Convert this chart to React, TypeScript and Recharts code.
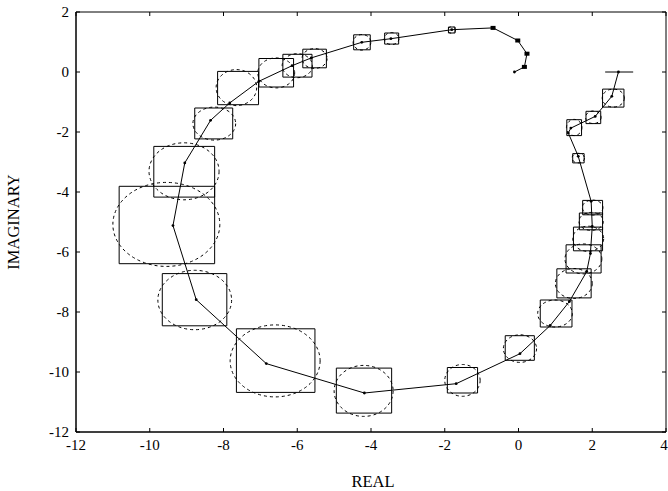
import { ScatterChart, Scatter, XAxis, YAxis, ReferenceArea, ReferenceLine } from "recharts"

// path of the locus (real, imaginary)
const pathX = [-0.11, 0.16, 0.23, -0.02, -0.69, -1.81, -3.46, -4.25, -5.62, -6.14, -7.04, -7.83, -8.35, -9.05, -9.37, -8.74, -6.84, -4.18, -1.69, 0.04, 0.86, 1.38, 1.85, 1.95, 2.0, 1.97, 1.62, 1.35, 1.42, 2.08, 2.53, 2.71]
const pathY = [0.0, 0.17, 0.61, 1.05, 1.47, 1.41, 1.11, 0.99, 0.47, 0.21, -0.31, -1.03, -1.61, -3.03, -5.12, -7.59, -9.72, -10.7, -10.39, -9.39, -8.45, -7.65, -6.65, -6.05, -5.15, -4.31, -2.81, -2.03, -1.87, -1.48, -0.81, 0.0]

// small filled markers near the start
const solidX = [-0.69, -0.02, 0.23, 0.16]
const solidY = [1.47, 1.05, 0.61, 0.17]

// uncertainty boxes
const boxLeft = [-1.9, -3.63, -4.47, -5.85, -6.39, -7.04, -8.16, -8.78, -9.89, -10.83, -9.66, -7.65, -4.94, -1.93, -0.36, 0.59, 1.04, 1.29, 1.49, 1.65, 1.74, 1.47, 1.31, 1.83, 2.28]
const boxRight = [-1.72, -3.25, -4.02, -5.21, -5.6, -6.1, -7.05, -7.75, -8.24, -8.24, -7.91, -5.52, -3.44, -1.11, 0.43, 1.45, 1.97, 2.24, 2.28, 2.28, 2.28, 1.78, 1.71, 2.23, 2.86]
const boxBottom = [1.3, 0.93, 0.74, 0.14, -0.17, -0.5, -1.09, -2.23, -4.17, -6.39, -8.46, -10.68, -11.37, -10.7, -9.61, -8.5, -7.53, -6.7, -5.96, -5.26, -4.76, -3.03, -2.12, -1.72, -1.17]
const boxTop = [1.5, 1.3, 1.24, 0.76, 0.59, 0.45, 0.02, -1.2, -2.48, -3.81, -6.72, -8.56, -9.87, -9.85, -8.79, -7.6, -6.56, -5.76, -5.17, -4.7, -4.28, -2.72, -1.59, -1.31, -0.57]

// flat box at the end of the locus
const flatX = [2.35, 3.11]
const flatY = 0

// dashed ellipses: centre and radii
const ellX = [-1.81, -3.44, -4.245, -5.53, -6.0, -6.57, -7.65, -8.25, -9.07, -9.55, -8.78, -6.6, -4.2, -1.52, 0.04, 0.99, 1.5, 1.76, 1.89, 1.97, 2.01, 1.62, 1.51, 2.03, 2.57]
const ellY = [1.4, 1.115, 0.99, 0.45, 0.21, -0.03, -0.52, -1.72, -3.31, -5.08, -7.6, -9.63, -10.63, -10.28, -9.22, -8.05, -7.05, -6.23, -5.56, -4.98, -4.52, -2.87, -1.85, -1.51, -0.87]
const ellRx = [0.1, 0.2, 0.24, 0.34, 0.41, 0.5, 0.55, 0.58, 0.95, 1.45, 1.0, 1.22, 0.8, 0.48, 0.45, 0.47, 0.5, 0.5, 0.42, 0.33, 0.28, 0.17, 0.21, 0.21, 0.3]
const ellRy = [0.11, 0.2, 0.26, 0.33, 0.4, 0.5, 0.6, 0.55, 0.95, 1.4, 0.99, 1.2, 0.85, 0.53, 0.46, 0.45, 0.5, 0.5, 0.42, 0.3, 0.25, 0.16, 0.27, 0.21, 0.3]

const xDomain = [-12, 4]
const yDomain = [-12, 2]
const xTicks = [-12, -10, -8, -6, -4, -2, 0, 2, 4]
const yTicks = [-12, -10, -8, -6, -4, -2, 0, 2]

const pathData = pathX.map((x, i) => ({ x, y: pathY[i] }))
const solidData = solidX.map((x, i) => ({ x, y: solidY[i] }))

const FONT = "'Liberation Serif', 'DejaVu Serif', serif"
const TICK = 4

function XTick(props: any) {
	const { x, y, payload } = props
	return (
		<text x={x} y={y + 11} textAnchor="middle" fontSize={15} fontFamily={FONT} fill="#000">
			{payload.value}
		</text>
	)
}

function YTick(props: any) {
	const { x, y, payload } = props
	return (
		<text x={x} y={y + 5} textAnchor="end" fontSize={15} fontFamily={FONT} fill="#000">
			{payload.value}
		</text>
	)
}

// inward tick marks on the top and bottom edges
function VTicks(props: any) {
	const { x1, x2, y1, y2 } = props
	const top = Math.min(y1, y2)
	const bottom = Math.max(y1, y2)
	return (
		<g stroke="#000" strokeWidth={1}>
			<line x1={x1} x2={x2} y1={top} y2={top + TICK} />
			<line x1={x1} x2={x2} y1={bottom} y2={bottom - TICK} />
		</g>
	)
}

// inward tick marks on the left and right edges
function HTicks(props: any) {
	const { x1, x2, y1, y2 } = props
	const left = Math.min(x1, x2)
	const right = Math.max(x1, x2)
	return (
		<g stroke="#000" strokeWidth={1}>
			<line x1={left} x2={left + TICK} y1={y1} y2={y2} />
			<line x1={right} x2={right - TICK} y1={y1} y2={y2} />
		</g>
	)
}

function EllipseShape(props: any) {
	const { x, y, width, height } = props
	return (
		<ellipse
			cx={x + width / 2}
			cy={y + height / 2}
			rx={Math.abs(width) / 2}
			ry={Math.abs(height) / 2}
			fill="none"
			stroke="#000"
			strokeWidth={1}
			strokeDasharray="3 3"
		/>
	)
}

function Dot(props: any) {
	return <circle cx={props.cx} cy={props.cy} r={1.4} fill="#000" />
}

function SolidMark(props: any) {
	return <rect x={props.cx - 2.5} y={props.cy - 2} width={5} height={4} fill="#000" />
}

export default function App() {
	return (
		<div>
			<style>{"body{margin:0}"}</style>
			<ScatterChart width={668} height={491} margin={{ top: 12, right: 2, bottom: 29, left: 16 }}>
				<XAxis
					type="number"
					dataKey="x"
					domain={xDomain}
					ticks={xTicks}
					allowDataOverflow
					height={30}
					tickSize={-4}
					tickMargin={11}
					tick={<XTick />}
					tickLine={false}
					axisLine={{ stroke: "#000" }}
				/>
				<YAxis
					type="number"
					dataKey="y"
					domain={yDomain}
					ticks={yTicks}
					allowDataOverflow
					width={60}
					tickSize={-4}
					tickMargin={11}
					tick={<YTick />}
					tickLine={false}
					axisLine={{ stroke: "#000" }}
				/>
				{/* plot frame */}
				<ReferenceArea
					x1={xDomain[0]}
					x2={xDomain[1]}
					y1={yDomain[0]}
					y2={yDomain[1]}
					fill="none"
					fillOpacity={0}
					stroke="#000"
					strokeWidth={1}
					ifOverflow="visible"
				/>
				{xTicks.map((t) => (
					<ReferenceLine key={"xt" + t} x={t} ifOverflow="visible" shape={VTicks} />
				))}
				{yTicks.map((t) => (
					<ReferenceLine key={"yt" + t} y={t} ifOverflow="visible" shape={HTicks} />
				))}
				{boxLeft.map((l, i) => (
					<ReferenceArea
						key={"b" + i}
						x1={l}
						x2={boxRight[i]}
						y1={boxBottom[i]}
						y2={boxTop[i]}
						fill="none"
						fillOpacity={0}
						stroke="#000"
						strokeWidth={1}
						ifOverflow="visible"
					/>
				))}
				{ellX.map((cx, i) => (
					<ReferenceArea
						key={"e" + i}
						x1={cx - ellRx[i]}
						x2={cx + ellRx[i]}
						y1={ellY[i] - ellRy[i]}
						y2={ellY[i] + ellRy[i]}
						ifOverflow="visible"
						shape={EllipseShape}
					/>
				))}
				<ReferenceLine
					segment={[
						{ x: flatX[0], y: flatY },
						{ x: flatX[1], y: flatY },
					]}
					stroke="#000"
					strokeWidth={1}
					ifOverflow="visible"
				/>
				<Scatter
					data={pathData}
					line={{ stroke: "#000", strokeWidth: 1 }}
					lineJointType="linear"
					shape={Dot}
					isAnimationActive={false}
				/>
				<Scatter data={solidData} shape={SolidMark} isAnimationActive={false} />
				<text
					x={19}
					y={222}
					transform="rotate(-90 19 222)"
					textAnchor="middle"
					fontSize={16.5}
					fontFamily={FONT}
					fill="#000"
				>
					IMAGINARY
				</text>
				<text x={373} y={486.5} textAnchor="middle" fontSize={16.5} fontFamily={FONT} fill="#000">
					REAL
				</text>
			</ScatterChart>
		</div>
	)
}
